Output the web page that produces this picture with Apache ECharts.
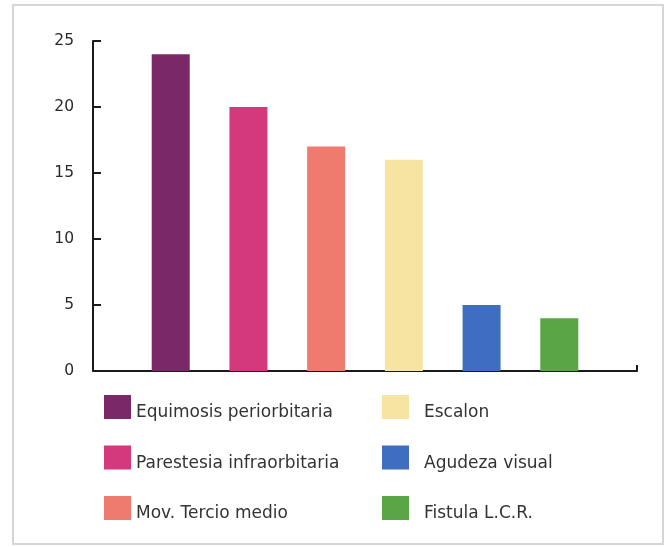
<!DOCTYPE html>
<html>
<head>
<meta charset="utf-8">
<script src="https://cdn.jsdelivr.net/npm/echarts@6/dist/echarts.min.js"></script>
<style>
  html, body { margin: 0; padding: 0; background: #fff; }
  #chart { width: 668px; height: 547px; }
</style>
</head>
<body>
<div id="chart"></div>
<script>
// Complicaciones observadas (número de casos)
const categories = [
  'Equimosis periorbitaria',
  'Parestesia infraorbitaria',
  'Mov. Tercio medio',
  'Escalon',
  'Agudeza visual',
  'Fistula L.C.R.'
];
const cases = [24, 20, 17, 16, 5, 4];
const barColors = ['#7a2867', '#d4387d', '#ee7b6d', '#f8e4a2', '#3f6dbf', '#5aa646'];
const yTicks = [0, 5, 10, 15, 20, 25];

const FONT = '"DejaVu Sans", sans-serif';

// Square legend key sitting in the upper part of its slot, so the label
// (centred on the slot) reads slightly below the key.
const KEY_ICON = 'path://M0,0L27,0L27,24L0,24Z M0,36';

const series = categories.map((name, i) => ({
  name: name,
  type: 'bar',
  barWidth: 38,
  barGap: '-100%',
  itemStyle: { color: barColors[i] },
  data: [[i + 1, cases[i]]]
}));

const legendText = { color: '#333', fontSize: 17, fontFamily: FONT };

const chart = echarts.init(document.getElementById('chart'));
chart.setOption({
  animation: false,
  backgroundColor: '#fff',
  graphic: [{
    type: 'rect',
    shape: { x: 13, y: 5, width: 650, height: 539 },
    style: { fill: 'none', stroke: '#d6d6d6', lineWidth: 2 },
    silent: true
  }],
  grid: { left: 93, right: 31, top: 41, bottom: 176 },
  xAxis: {
    type: 'value',
    min: 0,
    max: categories.length + 1,
    interval: categories.length + 1,
    splitLine: { show: false },
    axisLine: { show: true, lineStyle: { color: '#1a1a1a', width: 2 } },
    axisTick: { show: true, inside: true, length: 6, lineStyle: { color: '#1a1a1a', width: 2 } },
    axisLabel: { show: false }
  },
  yAxis: {
    type: 'value',
    min: yTicks[0],
    max: yTicks[yTicks.length - 1],
    interval: 5,
    splitLine: { show: false },
    axisLine: { show: true, lineStyle: { color: '#1a1a1a', width: 2 } },
    axisTick: { show: true, inside: true, length: 8, lineStyle: { color: '#1a1a1a', width: 2 } },
    axisLabel: { color: '#2a2a2a', fontSize: 15.5, fontFamily: FONT, margin: 19 }
  },
  legend: [
    {
      data: categories.slice(0, 3),
      orient: 'vertical',
      left: 104,
      top: 395,
      padding: 0,
      itemWidth: 27,
      itemHeight: 36,
      itemGap: 14.5,
      icon: KEY_ICON,
      selectedMode: false,
      textStyle: legendText
    },
    {
      data: categories.slice(3),
      orient: 'vertical',
      left: 382,
      top: 395,
      padding: 0,
      itemWidth: 27,
      itemHeight: 36,
      itemGap: 14.5,
      icon: KEY_ICON,
      selectedMode: false,
      textStyle: Object.assign({ padding: [0, 0, 0, 10] }, legendText)
    }
  ],
  series: series
});
</script>
</body>
</html>
